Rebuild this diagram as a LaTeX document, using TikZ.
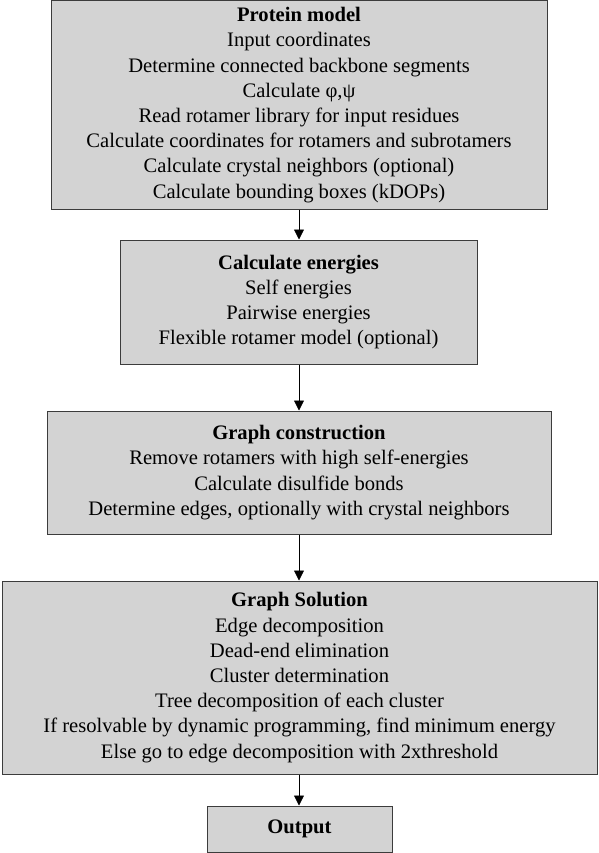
\documentclass[tikz,border=0pt]{standalone}
\usepackage{fontspec}
\setmainfont{Liberation Serif}
\usetikzlibrary{arrows.meta}
\definecolor{boxfill}{RGB}{211,211,211}
\definecolor{boxline}{RGB}{60,60,60}
\tikzset{
  stagebox/.style={draw=boxline, line width=1pt, fill=boxfill, inner sep=0pt,
    align=center, font=\fontsize{20.6}{25.2}\selectfont, text=black},
  flowarrow/.style={draw=black, line width=0.8pt, -{Triangle[length=10pt,width=10pt]}}
}
\begin{document}
\begin{tikzpicture}[x=1pt,y=1pt]
\useasboundingbox (0,0) rectangle (598,-853);
\node[stagebox, minimum width=496pt, minimum height=208pt] (pm) at (299,-105)
 {\textbf{Protein model}\\Input coordinates\\Determine connected backbone segments\\Calculate φ,ψ\\Read rotamer library for input residues\\Calculate coordinates for rotamers and subrotamers\\Calculate crystal neighbors (optional)\\Calculate bounding boxes (kDOPs)};
\node[stagebox, minimum width=357pt, minimum height=124pt] (ce) at (298.5,-302)
 {\textbf{Calculate energies}\\Self energies\\Pairwise energies\\Flexible rotamer model (optional)};
\node[stagebox, minimum width=504pt, minimum height=123pt] (gc) at (299,-472.5)
 {\textbf{Graph construction}\\Remove rotamers with high self-energies\\Calculate disulfide bonds\\Determine edges, optionally with crystal neighbors};
\node[stagebox, minimum width=595pt, minimum height=193pt] (gs) at (299.5,-677.5)
 {\textbf{Graph Solution}\\Edge decomposition\\Dead-end elimination\\Cluster determination\\Tree decomposition of each cluster\\If resolvable by dynamic programming, find minimum energy\\Else go to edge decomposition with 2xthreshold};
\node[stagebox, minimum width=185pt, minimum height=46pt] (out) at (299.5,-829)
 {\textbf{Output}};
\draw[flowarrow] (pm.south -| 299,0) -- (ce.north -| 299,0);
\draw[flowarrow] (ce.south -| 299,0) -- (gc.north -| 299,0);
\draw[flowarrow] (gc.south -| 299,0) -- (gs.north -| 299,0);
\draw[flowarrow] (gs.south -| 299,0) -- (out.north -| 299,0);
\end{tikzpicture}
\end{document}
